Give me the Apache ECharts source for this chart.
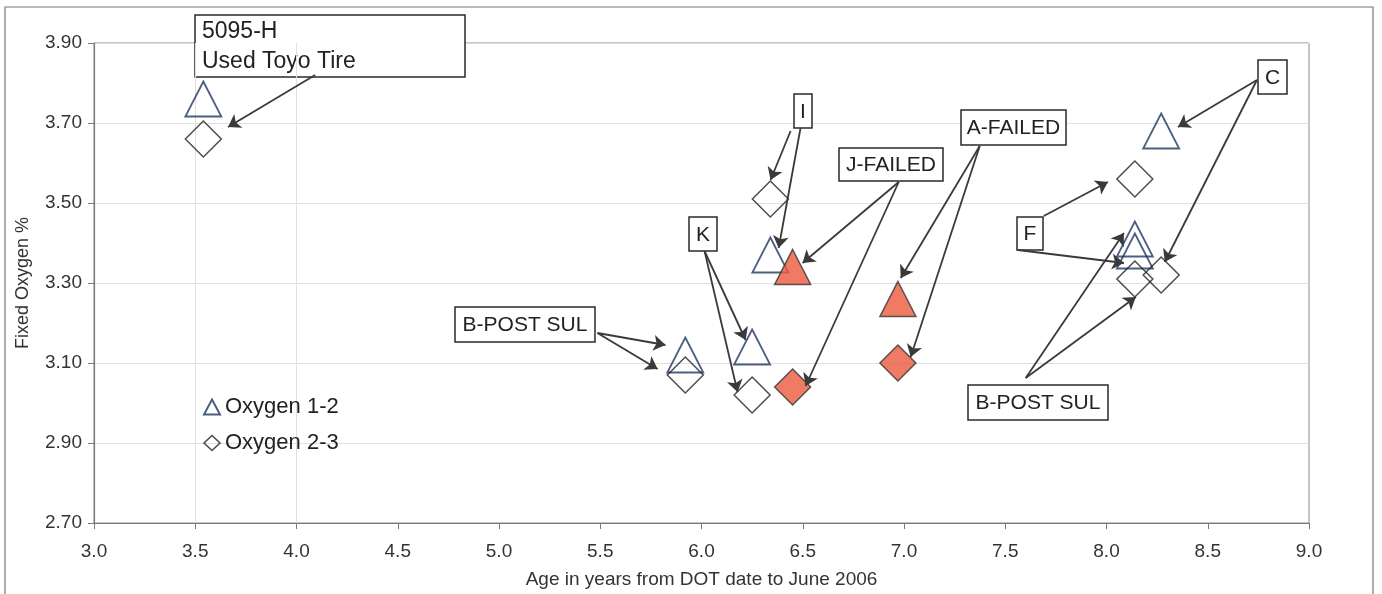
<!DOCTYPE html>
<html>
<head>
    <meta charset="utf-8">
    <title>Fixed Oxygen</title>
    <script src="https://cdn.jsdelivr.net/npm/echarts@6/dist/echarts.min.js"></script>
    <style>
        html, body { margin: 0; padding: 0; background: #fff; }
        #main { width: 1382px; height: 594px; }
    </style>
</head>
<body>
<div id="main"></div>
<script type="text/javascript">
// data
var ages = [3.54, 5.92, 6.25, 6.34, 6.45, 6.97, 8.14, 8.14, 8.27];
var oxygen12 = [3.76, 3.12, 3.14, 3.37, 3.34, 3.26, 3.38, 3.41, 3.68];
var oxygen23 = [3.66, 3.07, 3.02, 3.51, 3.04, 3.10, 3.56, 3.31, 3.32];
var failed = [false, false, false, false, true, true, false, false, false];
var seriesNames = ['Oxygen 1-2', 'Oxygen 2-3'];
var yTicks = ['2.70', '2.90', '3.10', '3.30', '3.50', '3.70', '3.90'];
var xTicks = ['3.0', '3.5', '4.0', '4.5', '5.0', '5.5', '6.0', '6.5', '7.0', '7.5', '8.0', '8.5', '9.0'];

// annotation boxes: top-left corner in data units, box size in px
var notes = [
    { text: '5095-H\nUsed Toyo Tire', at: [3.499, 3.970], w: 270, h: 62, left: true, size: 23 },
    { text: 'I', at: [6.455, 3.7725], w: 18, h: 34 },
    { text: 'J-FAILED', at: [6.677, 3.6375], w: 104, h: 33 },
    { text: 'A-FAILED', at: [7.280, 3.7325], w: 105, h: 35 },
    { text: 'K', at: [5.936, 3.465], w: 28, h: 34 },
    { text: 'B-POST SUL', at: [4.784, 3.24], w: 140, h: 35 },
    { text: 'C', at: [8.748, 3.8575], w: 29, h: 34 },
    { text: 'F', at: [7.557, 3.465], w: 26, h: 33 },
    { text: 'B-POST SUL', at: [7.315, 3.045], w: 140, h: 35 }
];
// arrows, from -> to, data units
var arrows = [
    [[4.092, 3.82], [3.662, 3.69]],
    [[6.440, 3.68], [6.341, 3.5575]],
    [[6.489, 3.6875], [6.381, 3.3875]],
    [[6.974, 3.5525], [6.499, 3.35]],
    [[6.974, 3.5525], [6.514, 3.0425]],
    [[7.374, 3.6425], [6.984, 3.3125]],
    [[7.374, 3.6425], [7.033, 3.115]],
    [[6.015, 3.38], [6.218, 3.1575]],
    [[6.015, 3.38], [6.178, 3.0275]],
    [[5.486, 3.175], [5.822, 3.145]],
    [[5.486, 3.175], [5.783, 3.085]],
    [[8.743, 3.8075], [8.353, 3.69]],
    [[8.743, 3.8075], [8.288, 3.3525]],
    [[7.690, 3.4675], [8.007, 3.5525]],
    [[7.562, 3.3825], [8.086, 3.35]],
    [[7.601, 3.0625], [8.086, 3.425]],
    [[7.601, 3.0625], [8.145, 3.265]]
];

var FONT = '"Liberation Sans", Arial, sans-serif';
var NAVY = '#1f3763';
var RED = '#ec5a3f';

function points(values) {
    return ages.map(function (a, i) {
        var item = { value: [a, values[i]] };
        if (failed[i]) {
            item.itemStyle = { color: RED, borderColor: '#333', borderWidth: 1.5 };
        }
        return item;
    });
}

var myChart = echarts.init(document.getElementById('main'));
var option = {
    animation: false,
    backgroundColor: '#fff',
    grid: { left: 94, right: 73, top: 43, bottom: 71, show: true, borderColor: '#8a8a8a', borderWidth: 1 },
    legend: {
        orient: 'vertical',
        left: 198,
        top: 391,
        itemWidth: 16,
        itemHeight: 15,
        itemGap: 14,
        textStyle: { fontFamily: FONT, fontSize: 22, color: '#222', padding: [0, 0, 0, 0] },
        data: [
            { name: seriesNames[0], icon: 'triangle', itemStyle: { color: 'transparent', borderColor: NAVY, borderWidth: 2 } },
            { name: seriesNames[1], icon: 'diamond', itemStyle: { color: 'transparent', borderColor: '#222', borderWidth: 1.6 } }
        ]
    },
    xAxis: {
        type: 'value', min: 3, max: 9, interval: 0.5,
        name: 'Age in years from DOT date to June 2006',
        nameLocation: 'middle', nameGap: 47,
        nameTextStyle: { fontFamily: FONT, fontSize: 19, color: '#333' },
        axisLine: { lineStyle: { color: '#7a7a7a', width: 1.2 } },
        axisTick: { show: true, length: 6, lineStyle: { color: '#7a7a7a' } },
        axisLabel: {
            fontFamily: FONT, fontSize: 19, color: '#333', margin: 19,
            formatter: function (v) { return xTicks[Math.round((v - 3) / 0.5)]; }
        },
        splitLine: { show: false }
    },
    yAxis: {
        type: 'value', min: 2.7, max: 3.9, interval: 0.2,
        name: 'Fixed Oxygen %',
        nameLocation: 'middle', nameGap: 62, nameRotate: 90,
        nameTextStyle: { fontFamily: FONT, fontSize: 18, color: '#333' },
        axisLine: { show: true, lineStyle: { color: '#7a7a7a', width: 1.2 } },
        axisTick: { show: true, length: 6, lineStyle: { color: '#7a7a7a' } },
        axisLabel: {
            fontFamily: FONT, fontSize: 19, color: '#333', margin: 12,
            formatter: function (v) { return yTicks[Math.round((v - 2.7) / 0.2)]; }
        },
        splitLine: { show: true, lineStyle: { color: '#e0e0e0', width: 1 } }
    },
    series: [
        {
            name: seriesNames[0],
            type: 'scatter',
            symbol: 'triangle',
            symbolSize: [36, 35],
            itemStyle: { color: 'transparent', borderColor: NAVY, borderWidth: 1.8 },
            data: points(oxygen12),
            z: 3,
            markLine: {
                silent: true, symbol: 'none', label: { show: false },
                lineStyle: { color: '#e0e0e0', width: 1, type: 'solid' },
                data: [{ xAxis: 3.5 }, { xAxis: 4.0 }],
                z: 1
            }
        },
        {
            name: seriesNames[1],
            type: 'scatter',
            symbol: 'diamond',
            symbolSize: [36, 36],
            itemStyle: { color: 'transparent', borderColor: '#222', borderWidth: 1.5 },
            data: points(oxygen23),
            z: 3
        },
        {
            name: 'arrows',
            type: 'line',
            data: [],
            z: 5,
            markLine: {
                silent: true,
                symbol: ['none', 'arrow'],
                symbolSize: [12, 12],
                label: { show: false },
                lineStyle: { color: '#3a3a3a', width: 1.8, type: 'solid' },
                data: arrows.map(function (a) { return [{ coord: a[0] }, { coord: a[1] }]; })
            }
        }
    ]
};
myChart.setOption(option);

// boxes drawn at the pixel spots of their data anchors
var boxes = notes.map(function (n) {
    var p = myChart.convertToPixel({ xAxisIndex: 0, yAxisIndex: 0 }, n.at);
    return {
        type: 'group',
        x: Math.round(p[0]), y: Math.round(p[1]),
        z: 10,
        children: [
            { type: 'rect', shape: { x: 0, y: 0, width: n.w, height: n.h },
              style: { fill: '#fff', stroke: '#2a2a2a', lineWidth: 1.5 } },
            { type: 'text',
              x: n.left ? 7 : n.w / 2, y: n.h / 2 + 1,
              style: { text: n.text, font: (n.size || 21) + 'px ' + FONT, fill: '#222',
                       align: n.left ? 'left' : 'center', verticalAlign: 'middle', lineHeight: 30 } }
        ]
    };
});
boxes.push({
    type: 'rect', z: 0, silent: true,
    shape: { x: 5, y: 7, width: 1368, height: 600 },
    style: { fill: 'none', stroke: '#777', lineWidth: 1.2 }
});
myChart.setOption({ graphic: boxes });
</script>
</body>
</html>
